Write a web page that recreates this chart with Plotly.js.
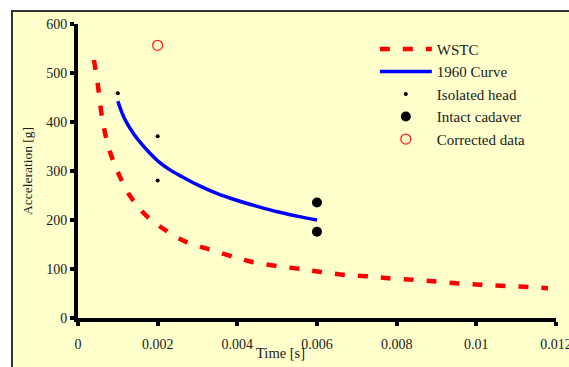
<!DOCTYPE html>
<html>
<head>
<meta charset="utf-8">
<script src="https://cdn.plot.ly/plotly-3.0.1.min.js"></script>
<style>
  html, body { margin: 0; padding: 0; background: #ffffff; }
  #frame { position: absolute; left: 11px; top: 10px; width: 570px; height: 370px;
           background: #FFFFCC; border-top: 2px solid #333; border-left: 2px solid #333; }
  #chart { position: absolute; left: 0; top: 0; width: 569px; height: 367px; }
</style>
</head>
<body>
<div id="frame"></div>
<div id="chart"></div>
<script>
// WSTC tolerance curve
const wstcTime = [0.0004, 0.0005, 0.0006, 0.0007, 0.0008, 0.001, 0.0013, 0.0017, 0.0022, 0.0027,
                  0.0033, 0.0039, 0.0044, 0.005, 0.0056, 0.0061, 0.0067, 0.0073, 0.0078, 0.0084,
                  0.0089, 0.0095, 0.0101, 0.0106, 0.0112, 0.0118];
const wstcAccel = [527, 475, 412, 370, 340, 298, 250, 210, 179, 156,
                   140, 125, 114, 106, 100, 94, 88, 85, 81, 78,
                   75, 71, 68, 66, 64, 61];

// 1960 curve
const curve1960Time = [0.001, 0.0011, 0.0012, 0.0014, 0.0016, 0.0018, 0.002, 0.0023, 0.0026, 0.003,
                       0.0035, 0.004, 0.0045, 0.005, 0.0055, 0.006];
const curve1960Accel = [443, 420, 402, 376, 355, 337, 321, 303, 289, 272,
                        254, 240, 228, 217, 208, 200];

// Isolated head
const headTime = [0.001, 0.002, 0.002];
const headAccel = [459, 371, 281];

// Intact cadaver
const cadaverTime = [0.006, 0.006];
const cadaverAccel = [236, 176];

// Corrected data
const correctedTime = [0.002];
const correctedAccel = [557];

// Axis ticks
const xTickVals = [0, 0.002, 0.004, 0.006, 0.008, 0.01, 0.012];
const xTickText = ["0", "0.002", "0.004", "0.006", "0.008", "0.01", "0.012"];
const yTickVals = [0, 100, 200, 300, 400, 500, 600];
const yTickText = ["0", "100", "200", "300", "400", "500", "600"];

const serif = "Liberation Serif";

const traces = [
  { x: wstcTime, y: wstcAccel, name: "WSTC", mode: "lines",
    line: { color: "#ff0000", width: 4.5, dash: "10px,13px", shape: "spline", smoothing: 0.8 } },
  { x: curve1960Time, y: curve1960Accel, name: "1960 Curve", mode: "lines",
    line: { color: "#0000ff", width: 3.5, shape: "spline", smoothing: 1 } },
  { x: headTime, y: headAccel, name: "Isolated head", mode: "markers",
    marker: { color: "#000000", size: 4 } },
  { x: cadaverTime, y: cadaverAccel, name: "Intact cadaver", mode: "markers",
    marker: { color: "#000000", size: 10 } },
  { x: correctedTime, y: correctedAccel, name: "Corrected data", mode: "markers",
    marker: { symbol: "circle-open", color: "#ff2020", size: 10, line: { width: 1.3 } } }
];

const layout = {
  width: 569, height: 367,
  paper_bgcolor: "rgba(0,0,0,0)", plot_bgcolor: "rgba(0,0,0,0)",
  margin: { l: 78, r: 13, t: 24, b: 49, pad: 0 },
  font: { family: serif, size: 14, color: "#1a1a1a" },
  showlegend: true,
  legend: { x: 0.621, y: 0.97, xanchor: "left", yanchor: "top",
            bgcolor: "rgba(0,0,0,0)", borderwidth: 0, itemwidth: 52,
            font: { family: serif, size: 15, color: "#1a1a1a" } },
  xaxis: { range: [0, 0.012001], tickvals: xTickVals, ticktext: xTickText,
           showgrid: false, zeroline: false, showline: true, linecolor: "#000", linewidth: 4,
           ticks: "outside", ticklen: 4, tickwidth: 4, tickcolor: "#000",
           ticklabelstandoff: 6, ticklabeloverflow: "allow",
           tickfont: { family: serif, size: 14, color: "#1a1a1a" } },
  yaxis: { range: [0, 600.5], tickvals: yTickVals, ticktext: yTickText,
           showgrid: false, zeroline: false, showline: true, linecolor: "#000", linewidth: 4,
           ticks: "outside", ticklen: 4, tickwidth: 4, tickcolor: "#000",
           tickfont: { family: serif, size: 14, color: "#1a1a1a" } },
  annotations: [
    { text: "Time [s]", xref: "paper", yref: "paper", x: 0.4226, y: -0.118,
      xanchor: "center", yanchor: "middle", showarrow: false,
      font: { family: serif, size: 14.5, color: "#1a1a1a" } },
    { text: "Acceleration [g]", xref: "paper", yref: "paper", x: -0.1067, y: 0.5,
      xanchor: "center", yanchor: "middle", textangle: -90, showarrow: false,
      font: { family: serif, size: 13.5, color: "#1a1a1a" } }
  ]
};

Plotly.newPlot("chart", traces, layout, { displayModeBar: false, staticPlot: true });
</script>
</body>
</html>
